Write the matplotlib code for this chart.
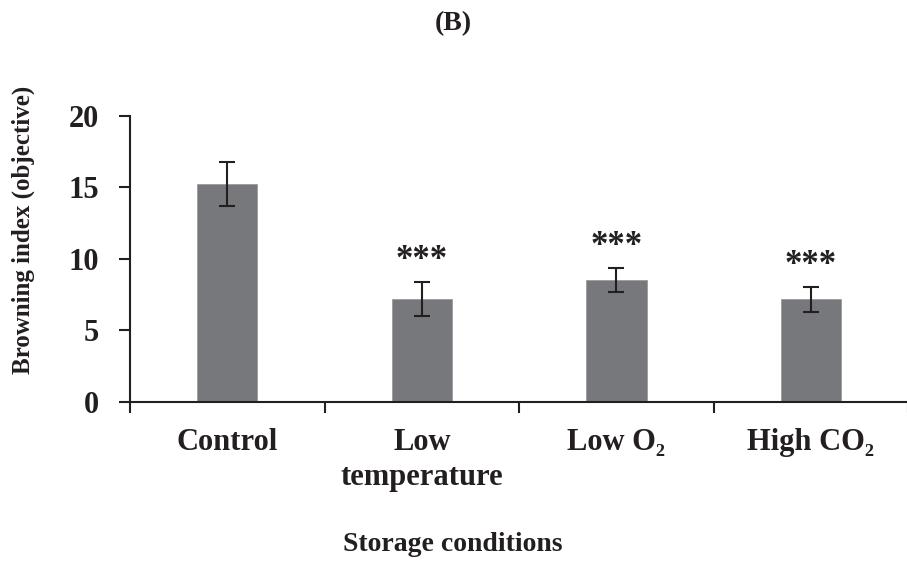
import matplotlib
matplotlib.use("Agg")
import matplotlib.pyplot as plt
import numpy as np

# Browning index per storage condition (mean and error)
conditions = ["Control", "Low\ntemperature", "Low O\u2082", "High CO\u2082"]
browning = [15.24, 7.19, 8.54, 7.15]
errors = [1.55, 1.18, 0.84, 0.88]
marks = ["", "***", "***", "***"]

plt.rcParams["font.family"] = ["Liberation Serif", "DejaVu Serif"]
plt.rcParams["font.weight"] = "bold"

ink = "#231f20"
bar_color = "#77787b"

fig = plt.figure(figsize=(9.07, 5.67), dpi=100)
ax = fig.add_axes([0.1433, 0.2915, 0.858, 0.5045])

x = np.arange(len(conditions))
ax.bar(x, browning, width=0.31, color=bar_color, edgecolor="#9a9b9d",
       linewidth=0.6, zorder=2)
ax.errorbar(x, browning, yerr=errors, fmt="none", ecolor=ink,
            elinewidth=1.5, capsize=5.5, capthick=1.5, zorder=3)

for xi, val, err, m in zip(x, browning, errors, marks):
    if m:
        ax.text(xi, val + err + 1.5, m, ha="center", va="center",
                fontsize=25, fontweight="bold", color=ink)

ax.set_xlim(-0.5, len(conditions) - 0.5)
ax.set_ylim(0, 20)
ax.set_yticks([0, 5, 10, 15, 20])

# category labels centred under bars, tick marks on the boundaries
ax.set_xticks(x)
ax.set_xticklabels(conditions, fontsize=22, fontweight="bold", color=ink,
                   linespacing=1.25)
ax.set_xticks(np.arange(-0.5, len(conditions)), minor=True)
ax.tick_params(axis="x", which="major", length=0, pad=19)
ax.tick_params(axis="x", which="minor", length=8, width=1.5, color=ink,
               direction="out")
ax.tick_params(axis="y", length=8, width=1.5, color=ink, direction="out",
               labelsize=22, pad=14, labelcolor=ink)
for lbl in ax.get_yticklabels():
    lbl.set_fontweight("bold")

for side in ("top", "right"):
    ax.spines[side].set_visible(False)
for side in ("left", "bottom"):
    ax.spines[side].set_linewidth(1.5)
    ax.spines[side].set_color(ink)

fig.text(0.026, 0.594, "Browning index (objective)", rotation=90,
         ha="center", va="center", fontsize=18, fontweight="bold", color=ink)
fig.text(0.4995, 0.039, "Storage conditions", ha="center", va="center",
         fontsize=20, fontweight="bold", color=ink)
fig.text(0.4995, 0.958, "(B)", ha="center", va="center",
         fontsize=20, fontweight="bold", color=ink)

fig.savefig("out.png", dpi=100)
